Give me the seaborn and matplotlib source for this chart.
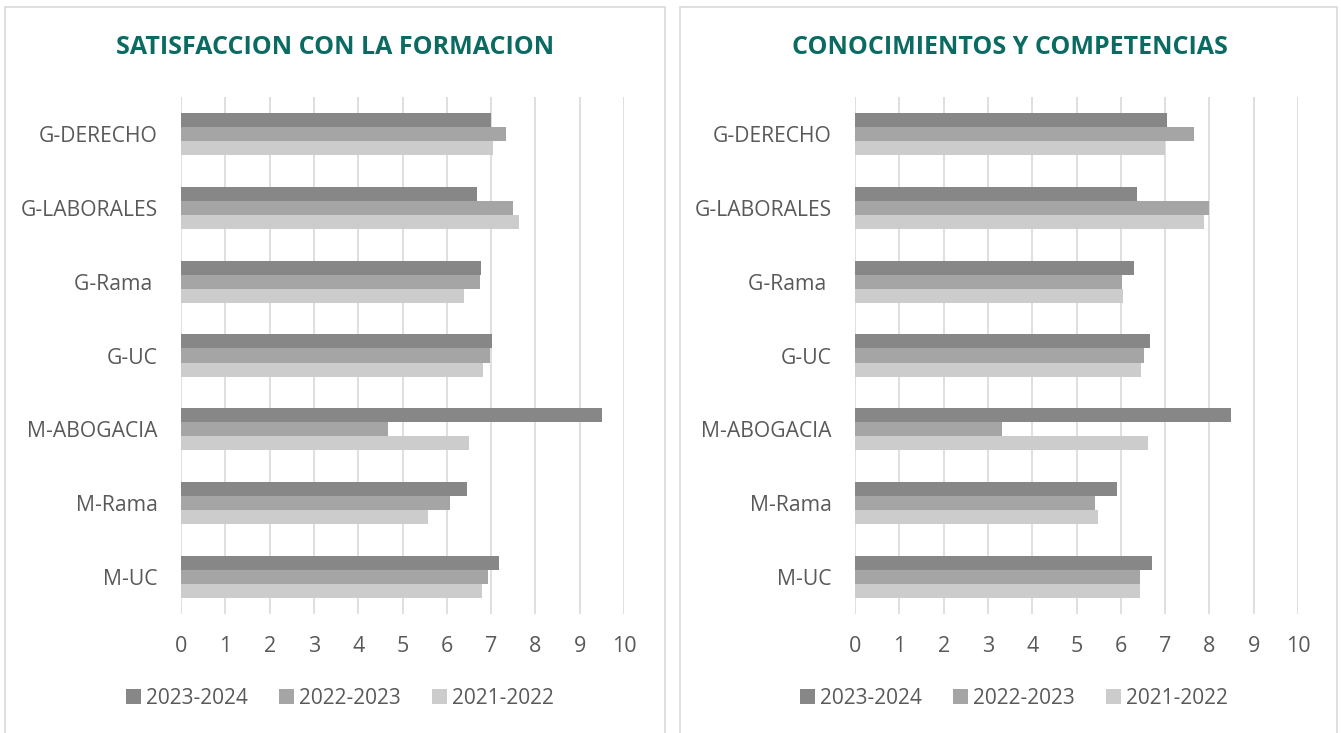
import numpy as np
import pandas as pd
import matplotlib
matplotlib.use('Agg')
import matplotlib.pyplot as plt
import seaborn as sns
from matplotlib.patches import Rectangle, Patch

# ============================================
# DATA
# ============================================
categorias = ['G-DERECHO', 'G-LABORALES', 'G-Rama ', 'G-UC', 'M-ABOGACIA', 'M-Rama', 'M-UC']
cursos = ['2023-2024', '2022-2023', '2021-2022']
colores = ['#878787', '#A5A5A5', '#CCCCCC']

# Satisfaccion con la formacion
satisf_2324 = [7.00, 6.69, 6.77, 7.01, 9.51, 6.45, 7.17]
satisf_2223 = [7.33, 7.50, 6.76, 6.98, 4.67, 6.07, 6.94]
satisf_2122 = [7.05, 7.63, 6.38, 6.82, 6.50, 5.57, 6.79]

# Conocimientos y competencias
conoc_2324 = [7.05, 6.37, 6.29, 6.66, 8.49, 5.91, 6.70]
conoc_2223 = [7.66, 8.00, 6.03, 6.53, 3.32, 5.42, 6.44]
conoc_2122 = [7.00, 7.88, 6.06, 6.45, 6.62, 5.49, 6.44]

titulos = ['SATISFACCION CON LA FORMACION', 'CONOCIMIENTOS Y COMPETENCIAS']


def to_long(series):
    rows = []
    for curso, vals in zip(cursos, series):
        for cat, v in zip(categorias, vals):
            rows.append({'Titulacion': cat, 'Curso': curso, 'Valor': v})
    return pd.DataFrame(rows)


df_satisf = to_long([satisf_2324, satisf_2223, satisf_2122])
df_conoc = to_long([conoc_2324, conoc_2223, conoc_2122])

# ============================================
# STYLE
# ============================================
sns.set_style('white')
plt.rcParams['font.family'] = ['Open Sans', 'DejaVu Sans']
TXT = '#595959'
GRID = '#D9D9D9'
TEAL = '#0B6B62'

W, H = 1341, 733
fig = plt.figure(figsize=(W / 100, H / 100), dpi=100)

panels = [
    # panel x0, x1, axes left px, title center, legend center
    (5, 665, 181, 335, 340),
    (680, 1337, 855, 1010, 1014),
]
datasets = [df_satisf, df_conoc]

for (px0, px1, axl, tcx, lcx), df, titulo in zip(panels, datasets, titulos):
    # panel border
    fig.patches.append(Rectangle((px0 / W, -0.02), (px1 - px0) / W, (H - 7) / H + 0.02,
                                 transform=fig.transFigure, fill=False,
                                 edgecolor=GRID, linewidth=1.2))

    ax = fig.add_axes([axl / W, (H - 614) / H, 443 / W, 517 / H])
    sns.barplot(data=df, y='Titulacion', x='Valor', hue='Curso', hue_order=cursos,
                order=categorias, palette=colores, orient='h', width=0.57,
                linewidth=0, saturation=1, legend=False, ax=ax)
    ax.set_xlim(0, 10)
    ax.set_xticks(range(0, 11))
    ax.set_xlabel('')
    ax.set_ylabel('')
    ax.grid(axis='x', color=GRID, linewidth=1.2)
    ax.grid(axis='y', visible=False)
    ax.set_axisbelow(True)
    for s in ax.spines.values():
        s.set_visible(False)
    ax.tick_params(axis='x', length=0, pad=16, labelsize=15.5, labelcolor=TXT)
    ax.tick_params(axis='y', length=0, pad=17, labelsize=15.2, labelcolor=TXT)

    fig.text(tcx / W, 1 - 47 / H, titulo, ha='center', va='center',
             fontsize=18, fontweight='bold', color=TEAL)

    handles = [Patch(facecolor=c, edgecolor='none') for c in colores]
    fig.legend(handles, cursos, loc='center', bbox_to_anchor=(lcx / W, 1 - 698 / H),
               ncol=3, frameon=False, fontsize=15, labelcolor=TXT,
               handlelength=0.7, handleheight=0.7, handletextpad=0.25,
               columnspacing=1.5)

fig.savefig('out.png', dpi=100)
